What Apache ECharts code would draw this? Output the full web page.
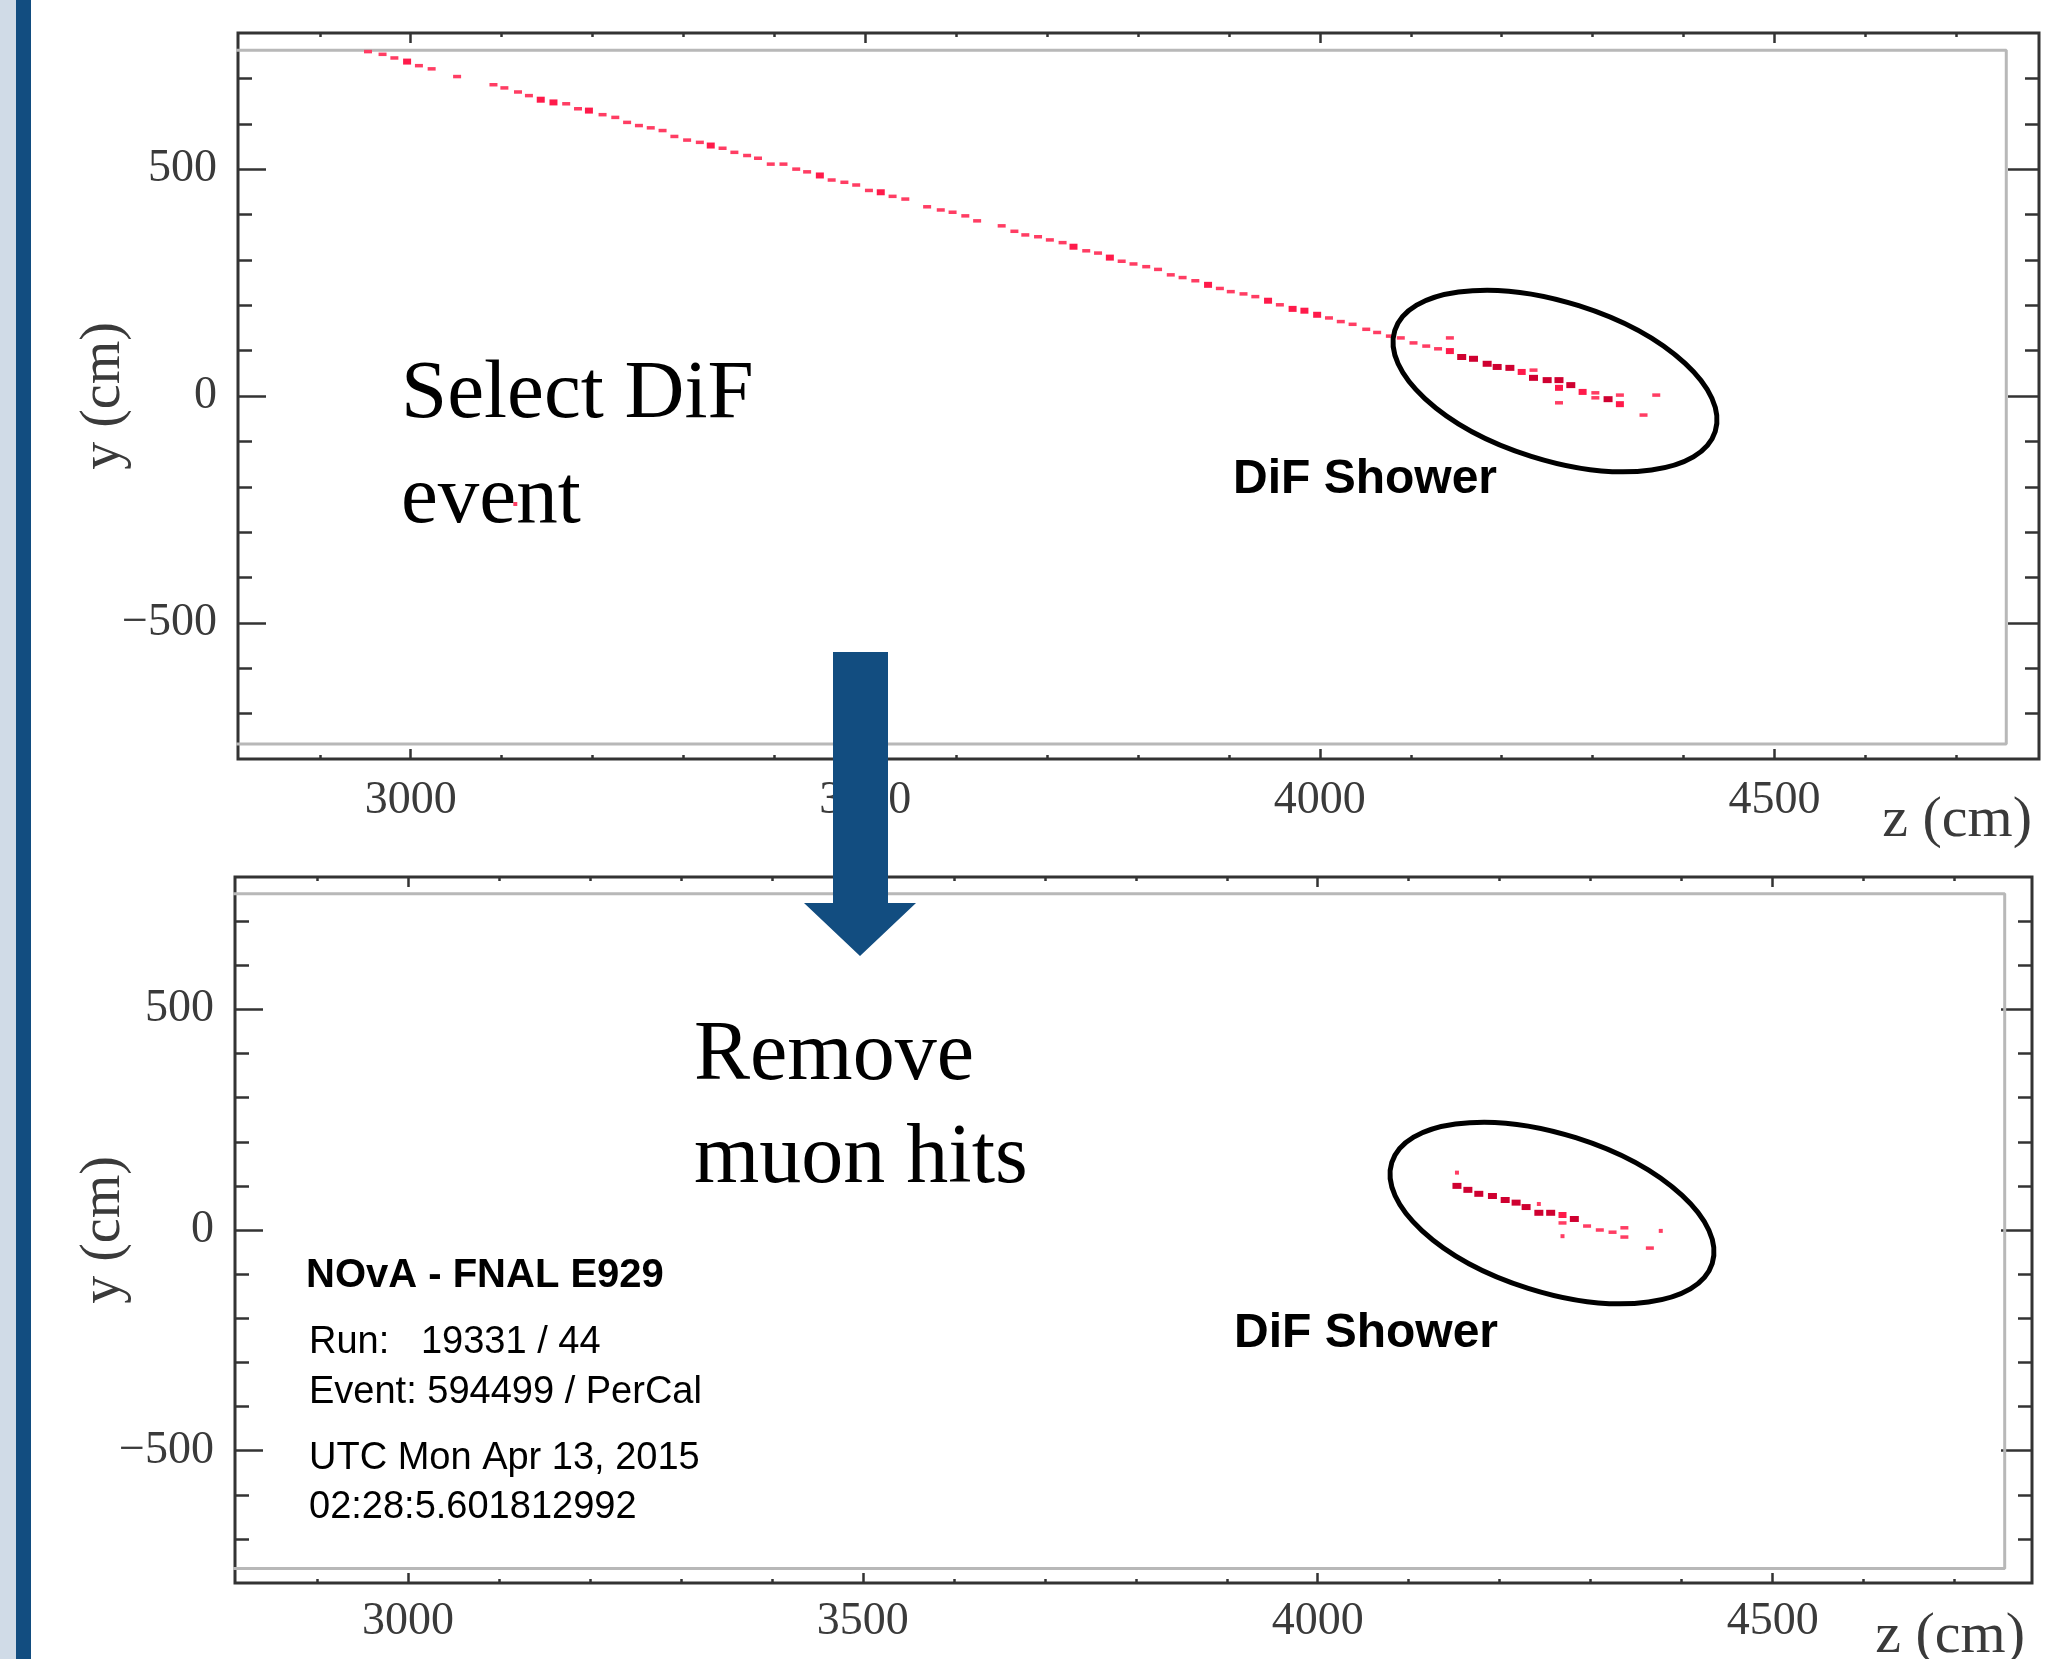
<!DOCTYPE html>
<html><head><meta charset="utf-8">
<script src="https://cdn.jsdelivr.net/npm/echarts@6/dist/echarts.min.js"></script>
<style>html,body{margin:0;padding:0;background:#fff;}#c{width:2060px;height:1659px;}</style>
</head><body><div id="c"></div>
<script>
// ---------------- data ----------------
const zMajorTicks = [3000, 3500, 4000, 4500];
const zMinorTicks = [2900, 3000, 3100, 3200, 3300, 3400, 3500, 3600, 3700, 3800, 3900, 4000, 4100, 4200, 4300, 4400, 4500, 4600, 4700];
const yMajorTicks = [-500, 0, 500];
const yMinorTicks = [-700, -600, -500, -400, -300, -200, -100, 0, 100, 200, 300, 400, 500, 600, 700];
const zRangeTop = [2810, 4791];
const zRangeBottom = [2810, 4785];
const yRange = [-800, 800];
const detectorZ = [2700, 4755];
const detectorY = [-767, 762];

// hits: [z (cm), y (cm), charge level]
const muonHits = [
  [2953,759,1],[2969,753,1],[2982,745,1],[2996,737,2],[3009,728,1],[3023,721,1],[3051,704,1],[3091,686,1],
  [3103,679,1],[3118,670,1],[3130,662,1],[3143,653,2],[3157,647,2],[3171,644,1],[3184,633,1],[3196,629,2],
  [3211,620,1],[3225,614,1],[3238,603,1],[3251,596,1],[3264,591,1],[3277,585,1],[3290,572,1],[3304,564,1],
  [3318,559,1],[3330,552,2],[3343,546,1],[3356,537,1],[3370,530,1],[3382,524,1],[3396,511,1],[3410,511,1],
  [3424,500,1],[3436,494,1],[3450,486,2],[3463,476,1],[3477,471,1],[3490,465,1],[3504,453,1],[3517,449,2],
  [3530,440,1],[3544,434,1],[3568,417,1],[3583,410,1],[3596,405,1],[3610,397,1],[3623,386,1],[3650,375,1],
  [3664,363,1],[3676,355,1],[3690,351,1],[3703,344,1],[3717,338,1],[3729,329,2],[3743,320,1],[3756,315,1],
  [3769,305,2],[3782,297,1],[3795,291,1],[3809,285,1],[3822,279,1],[3836,267,1],[3849,261,1],[3863,254,1],
  [3877,245,2],[3890,237,1],[3902,230,1],[3916,225,1],[3929,219,1],[3943,210,2],[3956,201,1],[3970,192,2],
  [3983,188,2],[3997,179,2],[4010,172,1],[4023,164,1],[4036,158,1],[4051,147,1],[4063,140,1],[4077,132,1],
  [4089,128,1],[4103,117,1],[4117,110,1],[4130,104,1]
];
const showerHitsTop = [
  [4143,128,1],[4143,99,2],[4156,86,3],[4169,82,3],[4184,71,3],[4195,64,3],[4209,62,3],[4222,53,2],
  [4235,57,1],[4235,40,3],[4250,35,3],[4263,35,3],[4263,18,2],[4263,-15,1],[4276,24,3],[4289,9,2],
  [4303,7,1],[4303,-4,1],[4317,-7,3],[4330,2,1],[4330,-18,2],[4356,-42,1],[4370,2,1]
];
const noiseHitsTop = [[3115,-238,0]];
const showerHitsBottom = [
  [4153,130,0],[4153,100,3],[4165,91,3],[4177,82,3],[4192,77,3],[4206,68,3],[4218,62,3],[4229,52,3],
  [4243,59,0],[4243,39,3],[4256,39,3],[4269,34,2],[4269,16,1],[4269,-14,0],[4282,25,3],[4296,9,1],
  [4310,0,1],[4324,-5,1],[4337,5,1],[4337,-16,1],[4365,-41,1],[4377,-2,0]
];

// ---------------- styles ----------------
const hitSizes = [[4,4],[8,3.5],[8,6],[9,6]];
const hitColors = ['#ff3d63','#ff3d63','#ff1a4a','#cf0030'];
const tickStyle = {color:'#333', width:2.5};
const serif = 'Liberation Serif';
const sans = 'Liberation Sans';
const labelColor = '#3a3a3a';

function xAxes(gi, zr, labelMargin, namePad) {
  const base = (pos, vals, len) => ({
    type:'value', gridIndex:gi, position:pos, min:zr[0], max:zr[1],
    axisLine:{show:false, onZero:false},
    axisTick:{show:true, inside:true, length:len, customValues:vals, lineStyle:tickStyle},
    axisLabel:{show:false}, splitLine:{show:false}
  });
  const main = base('bottom', zMajorTicks, 10);
  main.axisLabel = {show:true, customValues:zMajorTicks, margin:labelMargin, fontFamily:serif, fontSize:46, color:labelColor,
    formatter: v => String(v)};
  main.name = 'z (cm)';
  main.nameLocation = 'end';
  main.nameGap = -7;
  main.nameMoveOverlap = false;
  main.nameTextStyle = {fontFamily:serif, fontSize:58, color:labelColor, align:'right', verticalAlign:'top', padding:[namePad,0,0,0]};
  return [main, base('bottom', zMinorTicks, 4), base('top', zMajorTicks, 10), base('top', zMinorTicks, 4)];
}
function yAxes(gi, nameGap) {
  const base = (pos, vals, len) => ({
    type:'value', gridIndex:gi, position:pos, min:yRange[0], max:yRange[1],
    axisLine:{show:false, onZero:false},
    axisTick:{show:true, inside:true, length:len, customValues:vals, lineStyle:tickStyle},
    axisLabel:{show:false}, splitLine:{show:false}
  });
  const main = base('left', yMajorTicks, 28);
  main.axisLabel = {show:true, customValues:yMajorTicks, margin:21, fontFamily:serif, fontSize:46, color:labelColor,
    padding:[7,0,0,0],
    formatter: v => (v < 0 ? '\u2212' + Math.abs(v) : String(v))};
  main.name = 'y (cm)';
  main.nameLocation = 'middle';
  main.nameGap = nameGap;
  main.nameMoveOverlap = false;
  main.nameTextStyle = {fontFamily:serif, fontSize:56, color:labelColor, verticalAlign:'middle'};
  return [main, base('left', yMinorTicks, 14), base('right', yMajorTicks, 31), base('right', yMinorTicks, 14)];
}
function detectorSeries(xi, yi) {
  return {type:'line', xAxisIndex:xi, yAxisIndex:yi, silent:true, symbol:'none', z:1,
    data:[[detectorZ[0],detectorY[1]],[detectorZ[1],detectorY[1]],[detectorZ[1],detectorY[0]],[detectorZ[0],detectorY[0]]],
    lineStyle:{color:'#b8b8b8', width:3}};
}
function hitSeries(xi, yi, data) {
  return {type:'scatter', xAxisIndex:xi, yAxisIndex:yi, silent:true, z:5, data:data,
    symbol:'rect', symbolSize: v => hitSizes[v[2]],
    itemStyle:{color: p => hitColors[p.value[2]], opacity:1}};
}
const txt = (x, y, text, font, size, weight, lh, va) => ({
  type:'text', x:x, y:y, z:100, silent:true,
  style:{text:text, fontFamily:font, fontSize:size, fontWeight:weight || 'normal', lineHeight:lh || size,
    fill:'#000', align:'left', verticalAlign:va || 'middle'}
});
const ell = (cx, cy) => ({type:'ellipse', x:cx, y:cy, rotation:-17.5*Math.PI/180, z:100, silent:true,
  shape:{cx:0, cy:0, rx:168, ry:79}, style:{fill:'none', stroke:'#000', lineWidth:5}});

const chart = echarts.init(document.getElementById('c'), null, {renderer:'canvas'});
chart.setOption({
  animation:false,
  backgroundColor:'#fff',
  grid:[
    {left:238, top:33, width:1801, height:726, show:true, borderColor:'#333', borderWidth:3, backgroundColor:'transparent', containLabel:false, outerBoundsMode:'none'},
    {left:235, top:877, width:1797, height:706, show:true, borderColor:'#333', borderWidth:3, backgroundColor:'transparent', containLabel:false, outerBoundsMode:'none'}
  ],
  xAxis: xAxes(0, zRangeTop, 19, 33).concat(xAxes(1, zRangeBottom, 16, 25)),
  yAxis: yAxes(0, 134).concat(yAxes(1, 131)),
  series:[
    detectorSeries(0,0),
    hitSeries(0,0, muonHits.concat(showerHitsTop, noiseHitsTop)),
    detectorSeries(4,4),
    hitSeries(4,4, showerHitsBottom)
  ],
  graphic:[
    {type:'rect', z:100, silent:true, shape:{x:0,y:0,width:16,height:1659}, style:{fill:'#d0dbe7'}},
    {type:'rect', z:100, silent:true, shape:{x:16,y:0,width:15,height:1659}, style:{fill:'#124d80'}},
    {type:'polygon', z:100, silent:true, shape:{points:[[833,652],[888,652],[888,903],[916,903],[860,956],[804,903],[833,903]]}, style:{fill:'#124d80'}},
    ell(1555,381), ell(1552,1213),
    txt(401, 343, 'Select DiF\nevent', serif, 83, 'normal', 105, 'top'),
    txt(694, 1005, 'Remove\nmuon hits', serif, 84, 'normal', 103, 'top'),
    txt(1233, 480, 'DiF Shower', sans, 48, 'bold'),
    txt(1234, 1334, 'DiF Shower', sans, 48, 'bold'),
    txt(306, 1276, 'NOvA - FNAL E929', sans, 40, 'bold'),
    txt(309, 1343, 'Run:   19331 / 44', sans, 38),
    txt(309, 1393, 'Event: 594499 / PerCal', sans, 38),
    txt(309, 1459, 'UTC Mon Apr 13, 2015', sans, 38),
    txt(309, 1508, '02:28:5.601812992', sans, 38)
  ]
});
</script></body></html>
